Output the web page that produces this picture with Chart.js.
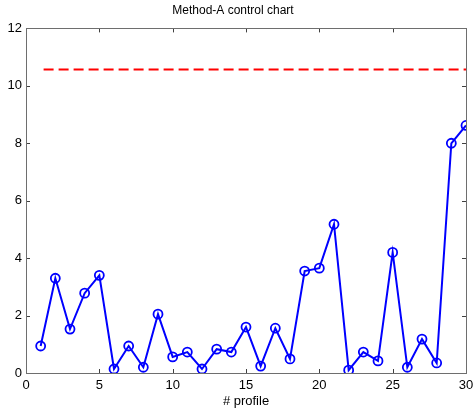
<!DOCTYPE html>
<html>
<head>
<meta charset="utf-8">
<script src="https://cdn.jsdelivr.net/npm/chart.js@4"></script>
<style>
  html, body { margin: 0; padding: 0; background: #fff; }
  #wrap { width: 473px; height: 414px; }
</style>
</head>
<body>
<div id="wrap"><canvas id="myChart" width="473" height="414"></canvas></div>
<script>
const profiles = [1,2,3,4,5,6,7,8,9,10,11,12,13,14,15,16,17,18,19,20,21,22,23,24,25,26,27,28,29,30];
const statValues = [0.94,3.3,1.53,2.78,3.4,0.14,0.94,0.2,2.05,0.56,0.73,0.14,0.83,0.73,1.6,0.24,1.56,0.49,3.55,3.65,5.18,0.1,0.73,0.42,4.2,0.2,1.18,0.35,8.0,8.62];
const limitX = [1.2, 30];
const limitY = [10.57, 10.57];
const xTicks = [0,5,10,15,20,25,30];
const yTicks = [0,2,4,6,8,10,12];

// matlab style box with inward ticks on all four sides
const boxTicks = {
    id: 'boxTicks',
    afterDraw(chart) {
        const {ctx, chartArea: a, scales: {x, y}} = chart;
        ctx.save();
        ctx.strokeStyle = '#404040';
        ctx.lineWidth = 1;
        ctx.beginPath();
        xTicks.forEach(v => {
            const px = Math.round(x.getPixelForValue(v)) + 0.5;
            ctx.moveTo(px, a.bottom); ctx.lineTo(px, a.bottom - 4);
            ctx.moveTo(px, a.top); ctx.lineTo(px, a.top + 4);
        });
        yTicks.forEach(v => {
            const py = Math.round(y.getPixelForValue(v)) + 0.5;
            ctx.moveTo(a.left, py); ctx.lineTo(a.left + 4, py);
            ctx.moveTo(a.right, py); ctx.lineTo(a.right - 4, py);
        });
        ctx.stroke();
        ctx.strokeStyle = '#6e6e6e';
        ctx.strokeRect(Math.round(a.left) + 0.5, Math.round(a.top) + 0.5, Math.round(a.right - a.left), Math.round(a.bottom - a.top));
        ctx.restore();
    }
};

const ctx = document.getElementById('myChart').getContext('2d');
const myChart = new Chart(ctx, {
    type: 'line',
    data: {
        datasets: [{
            label: 'limit',
            data: limitX.map((v, i) => ({x: v, y: limitY[i]})),
            borderColor: '#ff0000',
            borderWidth: 2,
            borderDash: [10, 5],
            pointRadius: 0,
            tension: 0
        }, {
            label: 'Method-A',
            data: profiles.map((p, i) => ({x: p, y: statValues[i]})),
            borderColor: '#0000ff',
            backgroundColor: 'rgba(0,0,0,0)',
            borderWidth: 2,
            pointRadius: 4.5,
            pointBorderWidth: 1.8,
            pointBorderColor: '#0000ff',
            pointBackgroundColor: 'rgba(0,0,0,0)',
            tension: 0
        }]
    },
    options: {
        responsive: false,
        animation: false,
        layout: { padding: { right: 7, top: 0, left: 0, bottom: 0 } },
        plugins: {
            legend: { display: false },
            tooltip: { enabled: false },
            title: {
                display: true,
                text: 'Method-A control chart',
                color: '#000',
                font: { family: 'Liberation Sans', size: 12, weight: 'normal' },
                padding: { top: 3, bottom: 11 }
            }
        },
        scales: {
            x: {
                type: 'linear',
                min: 0, max: 30,
                afterBuildTicks: s => { s.ticks = xTicks.map(v => ({value: v})); },
                afterFit: s => { s.height = 41; s.paddingLeft = 0; s.paddingRight = 0; },
                grid: { display: false, drawTicks: false, tickLength: 0 },
                border: { display: false },
                ticks: { color: '#000', padding: 5, font: { family: 'Liberation Sans', size: 13 } },
                title: {
                    display: true, text: '# profile', color: '#000',
                    font: { family: 'Liberation Sans', size: 13 }, padding: { top: 0, bottom: 5 }
                }
            },
            y: {
                min: 0, max: 12,
                afterBuildTicks: s => { s.ticks = yTicks.map(v => ({value: v})); },
                afterFit: s => { s.width = 26; s.paddingTop = 0; s.paddingBottom = 0; },
                grid: { display: false, drawTicks: false, tickLength: 0 },
                border: { display: false },
                ticks: { color: '#000', padding: 4, font: { family: 'Liberation Sans', size: 13 } }
            }
        }
    },
    plugins: [boxTicks]
});
</script>
</body>
</html>
